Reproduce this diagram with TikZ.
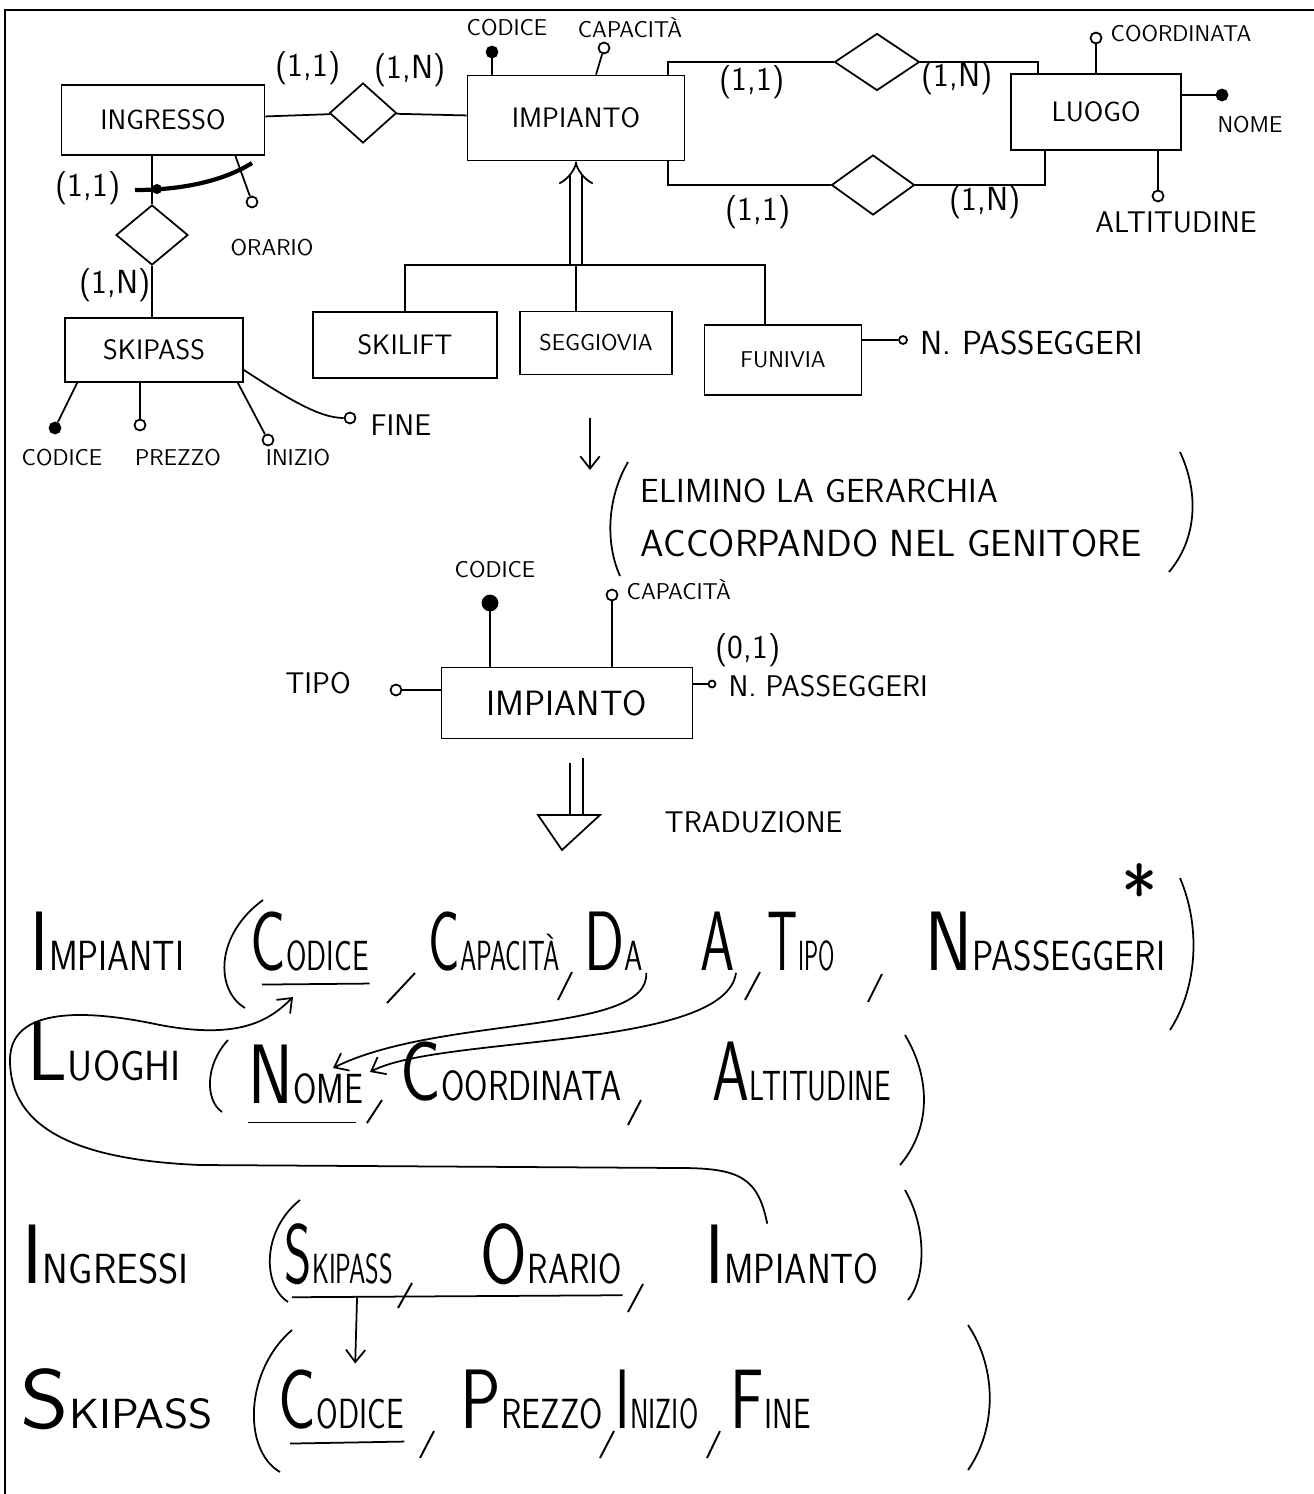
\documentclass[tikz,border=0pt]{standalone}
\usepackage{fontspec}
\usepackage{graphicx}
\usetikzlibrary{shapes.geometric,arrows.meta,calc}
% scrittura a mano: iniziale grande, resto piccolo
\newcommand\hw[3][.65]{\scalebox{#1}[1]{{\fontsize{48}{48}\selectfont #2}{\fontsize{24}{24}\selectfont #3}}}
\begin{document}
\begin{tikzpicture}[x=0.02cm,y=-0.02cm,line width=1pt,font=\sffamily,
	ent/.style={draw,inner sep=0,font=\sffamily\fontsize{16}{16}\selectfont},
	rel/.style={draw,diamond,inner sep=0},
	card/.style={font=\sffamily\fontsize{19}{19}\selectfont},
	lab/.style={font=\sffamily\fontsize{13}{13}\selectfont},
	labb/.style={font=\sffamily\fontsize{17}{17}\selectfont},
	wk/.style={circle,draw,fill=white,inner sep=0,minimum size=0.22cm},
	ky/.style={wk,fill=black},
	row/.style={anchor=base west,inner sep=0},
	virgola/.style={line width=1.1pt},
	barb/.style={-{Straight Barb[length=7pt,width=11pt]}}]
	\useasboundingbox (0,0) rectangle (1314,1494);
	\draw[line width=1.2pt] (5,1494) -- (5,10) -- (1314,10);%cornice
	
	% schema E-R
	\node[ent,minimum width=4.06cm,minimum height=1.4cm] (ingresso) at (163,120) {INGRESSO};
	\node[ent,minimum width=4.34cm,minimum height=1.7cm] (impianto) at (576,118) {IMPIANTO};
	\node[ent,minimum width=3.4cm,minimum height=1.52cm] (luogo) at (1096,112) {LUOGO};
	\node[ent,minimum width=3.56cm,minimum height=1.28cm] (skipass) at (154,350) {SKIPASS};
	\node[ent,minimum width=3.68cm,minimum height=1.32cm] (skilift) at (405,345) {SKILIFT};
	\node[ent,minimum width=3.04cm,minimum height=1.26cm,font=\sffamily\fontsize{13}{13}\selectfont] (seggiovia) at (596,343) {SEGGIOVIA};
	\node[ent,minimum width=3.14cm,minimum height=1.4cm,font=\sffamily\fontsize{13}{13}\selectfont] (funivia) at (783,360) {FUNIVIA};
	
	\node[rel,minimum width=1.34cm,minimum height=1.2cm] (rIngImp) at (363,113) {};
	\node[rel,minimum width=1.7cm,minimum height=1.14cm] (rDa) at (877,62) {};
	\node[rel,minimum width=1.66cm,minimum height=1.2cm] (rA) at (873,185) {};
	\node[rel,minimum width=1.44cm,minimum height=1.2cm] (rSk) at (152,235) {};
	
	\draw (ingresso) -- (rIngImp) -- (impianto);
	\draw ($(impianto.north east)+(-17,0)$) |- (rDa.west);
	\draw (rDa.east) -| ($(luogo.north west)+(28,0)$);
	\draw ($(impianto.south east)+(-17,0)$) |- (rA.west);
	\draw (rA.east) -| ($(luogo.south west)+(35,0)$);
	\draw (rSk.north |- ingresso.south) -- (rSk.north);
	\draw (rSk.south) -- (rSk.south |- skipass.north);
	
	\node[card] (c1) at (308,68) {(1,1)};
	\node[card] (c2) at (410,70) {(1,N)};
	\node[card] (c3) at (752,82) {(1,1)};
	\node[card] (c4) at (957,78) {(1,N)};
	\node[card] (c5) at (758,212) {(1,1)};
	\node[card] (c6) at (985,202) {(1,N)};
	\node[card] (c7) at (88,188) {(1,1)};
	\node[card] (c8) at (115,285) {(1,N)};
	
	% attributi
	\node[ky] (impCod) at (492,52) {};
	\draw (impCod) -- (impCod |- impianto.north);
	\node[lab] (impCodL) at (507,28) {CODICE};
	\node[wk] (impCap) at (604,48) {};
	\draw (impCap) -- ($(impianto.north)+(20,0)$);
	\node[lab] (impCapL) at (630,28) {CAPACITÀ};
	
	\node[wk] (luoCoo) at (1096,38) {};
	\draw (luoCoo) -- (luogo.north);
	\node[lab,anchor=west] (luoCooL) at (1104,34) {COORDINATA};
	\node[ky] (luoNom) at (1222,95) {};
	\draw (luoNom) -- (luogo.east |- luoNom);
	\node[lab] (luoNomL) at (1250,125) {NOME};
	\node[wk] (luoAlt) at (1158,196) {};
	\draw (luoAlt) -- (luoAlt |- luogo.south);
	\node[labb] (luoAltL) at (1176,222) {ALTITUDINE};
	
	\node[wk] (ingOra) at (252,202) {};
	\draw ($(ingresso.south east)+(-30,0)$) -- (ingOra);
	\node[lab] (ingOraL) at (272,248) {ORARIO};
	\draw[line width=2.4pt] (135,190) .. controls (185,190) and (225,180) .. (252,163);%identificatore
	\fill (157,189) circle (0.1cm);
	
	\node[ky] (skCod) at (55,428) {};
	\draw ($(skipass.south west)+(13,0)$) -- (skCod);
	\node[wk] (skPre) at (140,425) {};
	\draw (skPre) -- (skPre |- skipass.south);
	\node[wk] (skIni) at (268,440) {};
	\draw ($(skipass.south east)+(-6,0)$) -- (skIni);
	\node[wk] (skFin) at (350,418) {};
	\draw ($(skipass.east)+(0,20)$) .. controls (290,400) and (320,418) .. (skFin);
	\node[lab] (skCodL) at (62,458) {CODICE};
	\node[lab] (skPreL) at (178,458) {PREZZO};
	\node[lab] (skIniL) at (298,458) {INIZIO};
	\node[labb,anchor=west] (skFinL) at (364,425) {FINE};
	
	% gerarchia
	\coordinate (gen) at (576,265);
	\draw[double distance=6pt,-{Implies}] (gen) -- (impianto.south);
	\draw (skilift.north) |- (gen) -| ($(funivia.north)+(-18,0)$);
	\draw (gen) -- (gen |- seggiovia.north);
	\node[wk,minimum size=0.16cm] (funNp) at (903,340) {};
	\draw (funNp) -- (funivia.east |- funNp);
	\node[anchor=west,font=\sffamily\fontsize{19}{19}\selectfont] (funNpL) at (914,343) {N. PASSEGGERI};
	
	% ristrutturazione
	\coordinate (f1s) at (590,418);
	\coordinate (f1e) at (590,470);
	\draw[barb] (f1s) -- (f1e);
	\node[row,font=\sffamily\fontsize{19}{19}\selectfont] (nota1) at (640,502) {ELIMINO LA GERARCHIA};
	\node[row,font=\sffamily\fontsize{21.5}{21.5}\selectfont] (nota2) at (640,556) {ACCORPANDO NEL GENITORE};
	\draw (628,462) .. controls (606,500) and (606,545) .. (620,576);
	\draw (1180,452) .. controls (1200,495) and (1196,540) .. (1169,572);
	
	\node[ent,minimum width=5.02cm,minimum height=1.42cm,font=\sffamily\fontsize{20}{20}\selectfont] (impianto2) at (567,703) {IMPIANTO};
	\node[ky,minimum size=0.3cm] (im2Cod) at (490,603) {};
	\draw (im2Cod) -- (im2Cod |- impianto2.north);
	\node[lab] (im2CodL) at (495,570) {CODICE};
	\node[wk] (im2Cap) at (612,595) {};
	\draw (im2Cap) -- (im2Cap |- impianto2.north);
	\node[lab,anchor=west] (im2CapL) at (620,590) {CAPACITÀ};
	\node[wk] (im2Tip) at (396,690) {};
	\draw (im2Tip) -- (impianto2.west |- im2Tip);
	\node[labb] (im2TipL) at (318,683) {TIPO};
	\node[wk,minimum size=0.14cm] (im2Np) at (712,684) {};
	\draw (im2Np) -- (impianto2.east |- im2Np);
	\node[labb,anchor=west] (im2NpL) at (722,686) {N. PASSEGGERI};
	\node[card] (c9) at (748,650) {(0,1)};
	
	% traduzione
	\draw (570,763) -- (570,815);
	\draw (583,758) -- (583,815);
	\draw (538,815) -- (600,815) -- (562,850) -- cycle;
	\node[labb,anchor=west] (trad) at (658,822) {TRADUZIONE};
	
	% schema logico
	\node[row] (rImp) at (30,970) {\hw[.83]{I}{MPIANTI}};
	\node[row] (rImpCod) at (250,970) {\hw[.7]{C}{ODICE}};
	\node[row] (rImpCap) at (428,970) {\hw[.62]{C}{APACITÀ}};
	\node[row] (rImpDa) at (584,970) {\hw[.7]{D}{A}};
	\node[row] (rImpA) at (700,970) {\hw{A}{}};
	\node[row] (rImpTip) at (767,970) {\hw[.56]{T}{IPO}};
	\node[row] (rImpNp) at (925,970) {\hw[.84]{N}{PASSEGGERI}};
	\node[font=\sffamily\fontsize{44}{44}\selectfont] (ast) at (1140,893) {*};
	\draw (263,900) .. controls (215,935) and (215,990) .. (245,1008);
	\draw (1180,878) .. controls (1202,930) and (1196,990) .. (1170,1030);
	\draw[virgola] (387,1003) -- (415,973);
	\draw[virgola] (558,1000) -- (572,972);
	\draw[virgola] (745,1000) -- (760,972);
	\draw[virgola] (868,1002) -- (882,974);
	\draw ($(rImpCod.south west)+(12,13)$) -- ($(rImpCod.south east)+(0,12)$);
	
	\node[row] (rLuo) at (27,1080) {\hw[.93]{L}{UOGHI}};
	\node[row] (rLuoNom) at (248,1103) {\hw[.8]{N}{OME}};
	\node[row] (rLuoCoo) at (400,1100) {\hw[.8]{C}{OORDINATA}};
	\node[row] (rLuoAlt) at (712,1100) {\hw[.7]{A}{LTITUDINE}};
	\draw (228,1040) .. controls (205,1065) and (205,1100) .. (222,1112);
	\draw (905,1035) .. controls (932,1080) and (930,1130) .. (900,1165);
	\draw[virgola] (367,1123) -- (382,1100);
	\draw[virgola] (628,1125) -- (641,1100);
	\draw ($(rLuoNom.south west)+(0,18)$) -- ($(rLuoNom.south east)+(-8,18)$);
	
	\node[row] (rIng) at (22,1283) {\hw[.92]{I}{NGRESSI}};
	\node[row] (rIngSk) at (284,1283) {\hw[.62]{S}{KIPASS}};
	\node[row] (rIngOra) at (480,1283) {\hw[.8]{O}{RARIO}};
	\node[row] (rIngImp) at (705,1283) {\hw[.85]{I}{MPIANTO}};
	\draw (300,1200) .. controls (262,1230) and (262,1285) .. (288,1302);
	\draw (905,1190) .. controls (928,1230) and (925,1280) .. (908,1300);
	\draw[virgola] (398,1308) -- (412,1283);
	\draw[virgola] (628,1312) -- (643,1284);
	\draw ($(rIngSk.south west)+(8,12)$) -- ($(rIngOra.south east)+(0,10)$);
	
	\node[row] (rSk) at (20,1428) {\hw[1.1]{S}{KIPASS}};
	\node[row] (rSkCod) at (278,1428) {\hw[.74]{C}{ODICE}};
	\node[row] (rSkPre) at (460,1428) {\hw[.8]{P}{REZZO}};
	\node[row] (rSkIni) at (615,1428) {\hw[.66]{I}{NIZIO}};
	\node[row] (rSkFin) at (730,1428) {\hw[.74]{F}{INE}};
	\draw (292,1330) .. controls (245,1370) and (242,1450) .. (280,1472);
	\draw (968,1325) .. controls (998,1370) and (996,1430) .. (968,1470);
	\draw[virgola] (420,1458) -- (434,1431);
	\draw[virgola] (600,1458) -- (614,1431);
	\draw[virgola] (707,1458) -- (720,1431);
	\draw ($(rSkCod.south west)+(12,14)$) -- ($(rSkCod.south east)+(0,12)$);
	
	% chiavi esterne
	\draw[barb] ($(rImpDa.south east)+(2,2)$) .. controls (650,1035) and (440,1015) .. (333,1068);
	\draw[barb] ($(rImpA.south east)+(0,2)$) .. controls (725,1050) and (440,1035) .. (370,1072);
	\draw[barb] ($(rIngImp.north)+(-25,0)$) .. controls (758,1178) and (740,1168) .. (680,1168) -- (200,1165) .. controls (80,1160) and (10,1130) .. (10,1060) .. controls (10,1005) and (90,1010) .. (160,1025) .. controls (240,1040) and (270,1020) .. (293,997);
	\draw[barb] ($(rIngSk.south)+(18,12)$) -- ($(rSkCod.north)+(14,-5)$);
\end{tikzpicture}
\end{document}
